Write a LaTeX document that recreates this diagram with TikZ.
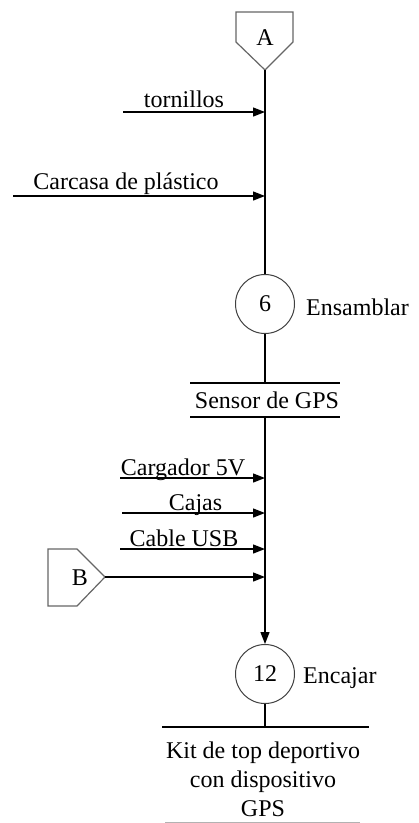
\documentclass[tikz,border=0pt]{standalone}
\usepackage{fontspec}
\setmainfont{Liberation Serif}
\usetikzlibrary{arrows.meta}
\begin{document}
\begin{tikzpicture}[x=1pt,y=-1pt,font=\fontsize{24}{29}\selectfont,
  flow/.style={line width=1.3pt},
  arr/.style={flow,-{Triangle[length=12pt,width=9pt]}},
  op/.style={circle,draw=black!75,line width=1pt,minimum size=59pt,inner sep=0pt},
  conn/.style={draw=black!60,line width=1.2pt,fill=white},
  lbl/.style={anchor=base,inner sep=0pt},
  bar/.style={line width=1.3pt}]
\useasboundingbox (0,0) rectangle (419,823);
% connector A
\draw[conn] (236,12) -- (293,12) -- (293,42) -- (265,70) -- (236,42) -- cycle;
\node (A) at (265,38) {A};
\coordinate (Atip) at (265,70);
% operation 6
\node[op] (c6) at (265,304) {6};
\node[anchor=base west,inner sep=0pt] (e6) at (306,315) {Ensamblar};
\draw[flow] (Atip) -- (c6);
% inputs
\coordinate (t0) at (123,112); \coordinate (t1) at (265,112);
\draw[arr] (t0) -- (t1);
\node[lbl] (tl) at (184,107) {tornillos};
\coordinate (p0) at (13,196); \coordinate (p1) at (265,196);
\draw[arr] (p0) -- (p1);
\node[lbl] (pl) at (126,189) {Carcasa de plástico};
% Sensor de GPS
\coordinate (s1) at (265,383); \coordinate (s2) at (265,417);
\draw[flow] (c6) -- (s1);
\draw[bar] (190,383) -- (340,383);
\draw[bar] (190,417) -- (340,417);
\node[lbl] (sg) at (267,408) {Sensor de GPS};
% operation 12
\node[op] (c12) at (265,674) {12};
\node[anchor=base west,inner sep=0pt] (e12) at (303,683) {Encajar};
\draw[arr] (s2) -- (c12);
% inputs 2
\coordinate (g0) at (120,478); \coordinate (g1) at (265,478);
\draw[arr] (g0) -- (g1);
\node[lbl] (gl) at (183,475) {Cargador 5V};
\coordinate (j0) at (122,513); \coordinate (j1) at (265,513);
\draw[arr] (j0) -- (j1);
\node[lbl] (jl) at (195.5,510) {Cajas};
\coordinate (u0) at (120,549); \coordinate (u1) at (265,549);
\draw[arr] (u0) -- (u1);
\node[lbl] (ul) at (184,546) {Cable USB};
% connector B
\draw[conn] (48,549) -- (77,549) -- (105,577) -- (77,606) -- (48,606) -- cycle;
\node (B) at (80,578) {B};
\coordinate (Btip) at (105,577); \coordinate (b1) at (265,577);
\draw[arr] (Btip) -- (b1);
% output
\coordinate (k1) at (265,727);
\draw[flow] (c12) -- (k1);
\draw[bar] (162,727) -- (369,727);
\node[lbl] (k1t) at (263,758) {Kit de top deportivo};
\node[lbl] (k2t) at (263,787) {con dispositivo};
\node[lbl] (k3t) at (263,816) {GPS};
\draw[black!30,line width=1pt] (165,822) -- (360,822);
\end{tikzpicture}
\end{document}
